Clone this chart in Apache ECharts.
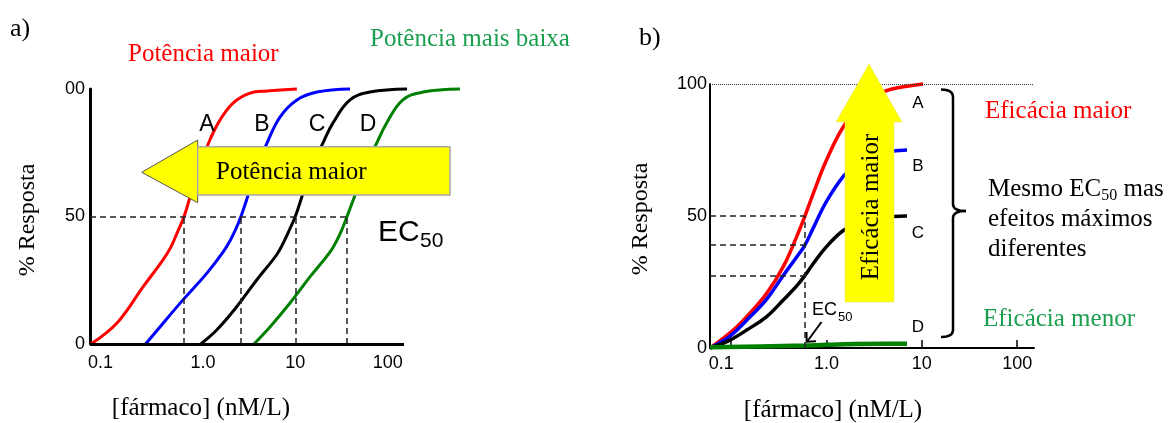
<!DOCTYPE html>
<html>
<head>
<meta charset="utf-8">
<script src="https://cdn.jsdelivr.net/npm/echarts@6/dist/echarts.min.js"></script>
<style>
  html, body { margin: 0; padding: 0; background: #fff; }
  #chart { width: 1173px; height: 423px; }
</style>
</head>
<body>
<div id="chart"></div>
<script>
// ---- Panel a: four agonists, same maximum, different potency ----
const doseRedA   = [0.0615, 0.1175, 0.225, 0.37, 0.45, 0.525, 0.625, 0.724, 0.929, 1.19, 1.53, 2.12, 3.24, 4.94, 10.4];
const respRedA   = [0, 8.2, 22.4, 33, 38, 43.5, 50, 57.5, 70, 80, 87.8, 94.5, 98.4, 99.2, 100];
const doseBlueA  = [0.24, 0.343, 0.609, 1.106, 1.65, 2.0, 2.3, 2.58, 3.0, 3.85, 4.94, 6.83, 10.4, 17.2, 39.1];
const respBlueA  = [0, 6.7, 17.3, 27.8, 36, 41, 45.5, 50, 57, 69.4, 78.8, 89, 95.7, 98.8, 100];
const doseBlackA = [0.946, 1.41, 2.32, 3.82, 6.29, 7.5, 8.7, 10, 12.1, 15.5, 19.9, 25.6, 39.1, 64.3, 162];
const respBlackA = [0, 5.5, 14.6, 25.1, 35, 40, 45, 50, 59, 70.5, 78.8, 86.7, 95.7, 98.8, 100];
const doseGreenA = [3.57, 5.32, 8.77, 14.4, 23.7, 28.5, 32.5, 36.3, 46.1, 59.3, 76, 97.5, 146, 241, 605];
const respGreenA = [0, 6.7, 16.1, 26.3, 36, 41, 45.5, 50, 60, 70.5, 78.8, 86.7, 95.7, 98.8, 100];
const ec50A      = [0.625, 2.58, 10, 36.3];

// ---- Panel b: same EC50, different maximal effect ----
const doseB      = [0.06, 0.0972, 0.1456, 0.236, 0.352, 0.487, 0.594, 0.727, 1.0, 1.5, 2.2, 3.2, 4.98, 6.98];
const doseRedB   = [0.06, 0.0972, 0.1456, 0.236, 0.352, 0.487, 0.594, 0.727, 1.0, 1.5, 2.2, 3.2, 4.74, 10.3];
const respRedB   = [0, 5.7, 11.9, 20.7, 30.8, 42.2, 50, 58.6, 71.2, 83.8, 91, 95.5, 98, 100];
const respBlueB  = [0, 4.5, 10.5, 18.5, 27.5, 34.5, 39, 45.5, 55.5, 65, 70.5, 73.5, 74.6, 75];
const respBlackB = [0, 3, 6.8, 11.9, 18.2, 23.5, 27.5, 32, 38.4, 44.5, 47.5, 49.2, 49.8, 50];
const doseGreenB = [0.06, 0.2, 0.6, 1.0, 2.0, 4.0, 6.98];
const respGreenB = [0.3, 0.6, 0.9, 1.2, 1.5, 1.6, 1.6];
const ec50B      = 0.594;
const halfMaxB   = [50, 39, 27.5];

// ---- Axis ranges and ticks ----
const xMin = 0.06;
const xAxisEnd = 150;      // where the drawn concentration axis stops
const xCurveEndA = 700;    // panel a curves run on past the axis end
const xTickValues  = [0.1, 1, 10, 100];
const xTickLabels  = ['0.1', '1.0', '10', '100'];
const yTickLabelsA = ['0', '50', '00'];
const yTickLabelsB = ['0', '50', '100'];

const SERIF = '"Liberation Serif", "Times New Roman", serif';
const SANS = '"Liberation Sans", Arial, sans-serif';
const pairs = (xs, ys) => xs.map((x, i) => [x, ys[i]]);

const dashStyle = { color: '#222', type: [6, 4], width: 1.5 };
function segLines(segs, style) {
  return {
    silent: true, animation: false, symbol: ['none', 'none'],
    label: { show: false }, lineStyle: style,
    emphasis: { disabled: true },
    data: segs
  };
}

function xAxisCfg(gridIndex, max, lineWidth, showLine, showTicks, margin) {
  return {
    type: 'log', logBase: 10, gridIndex: gridIndex,
    min: xMin, max: max,
    axisLine: { show: showLine, onZero: false, lineStyle: { color: '#000', width: lineWidth } },
    axisTick: {
      show: showTicks, inside: true, length: 8, customValues: xTickValues,
      lineStyle: { color: '#000', width: 1.5 }
    },
    minorTick: { show: false },
    splitLine: { show: false },
    axisLabel: {
      customValues: xTickValues, margin: margin,
      color: '#000', fontSize: 18, fontFamily: SANS,
      formatter: function (v) {
        const i = Math.round(Math.log10(v)) + 1;
        return i === 0 ? '{l|' + xTickLabels[0] + '}' : xTickLabels[i];
      },
      rich: { l: { padding: [0, 20, 0, 0], fontSize: 18, fontFamily: SANS, color: '#000' } }
    }
  };
}

function yAxisCfg(gridIndex, lineWidth, labels, margin) {
  return {
    type: 'value', gridIndex: gridIndex, min: 0, max: 100, interval: 50,
    axisLine: { show: true, onZero: false, lineStyle: { color: '#000', width: lineWidth } },
    axisTick: { show: false },
    splitLine: { show: false },
    axisLabel: {
      margin: margin, color: '#000', fontSize: 18, fontFamily: SANS,
      formatter: v => labels[Math.round(v / 50)]
    }
  };
}

function curve(xi, data, color, width, extra) {
  return Object.assign({
    type: 'line', xAxisIndex: xi, yAxisIndex: xi, data: data,
    showSymbol: false, smooth: 0.4, clip: false,
    lineStyle: { color: color, width: width }, itemStyle: { color: color },
    emphasis: { disabled: true }, animation: false, z: 2
  }, extra || {});
}

function txt(x, y, text, font, fill, align, vAlign, extra) {
  return Object.assign({
    type: 'text', x: x, y: y, z: 20,
    style: { text: text, font: font, fill: fill, align: align || 'left', verticalAlign: vAlign || 'middle' }
  }, extra || {});
}

function seg(x1, y1, x2, y2, w) {
  return { type: 'line', z: 20, shape: { x1: x1, y1: y1, x2: x2, y2: y2 }, style: { stroke: '#000', lineWidth: w } };
}
function qcurve(x1, y1, cx, cy, x2, y2, w) {
  return {
    type: 'bezierCurve', z: 20,
    shape: { x1: x1, y1: y1, cpx1: cx, cpy1: cy, x2: x2, y2: y2 },
    style: { stroke: '#000', lineWidth: w, fill: null }
  };
}

// panel a: 92.4 px per decade, so the grid reaches the end of the longest curve
const decadeA = 92.4;
const gridWidthA = decadeA * (Math.log10(xCurveEndA) - Math.log10(xMin));

const option = {
  backgroundColor: '#fff',
  animation: false,
  grid: [
    { left: 90, top: 89, width: gridWidthA, height: 255 },
    { left: 710, top: 84, width: 324, height: 264 }
  ],
  xAxis: [xAxisCfg(0, xCurveEndA, 3, false, false, 10), xAxisCfg(1, xAxisEnd, 2, true, true, 7)],
  yAxis: [yAxisCfg(0, 3, yTickLabelsA, 5), yAxisCfg(1, 2, yTickLabelsB, 3)],
  series: [
    // panel a
    curve(0, pairs(doseRedA, respRedA), '#ff0000', 3, {
      markLine: segLines([[{ coord: [ec50A[0], 0] }, { coord: [ec50A[0], 50] }]], dashStyle)
    }),
    curve(0, pairs(doseBlueA, respBlueA), '#0000ff', 3, {
      markLine: segLines([[{ coord: [ec50A[1], 0] }, { coord: [ec50A[1], 50] }]], dashStyle)
    }),
    curve(0, pairs(doseBlackA, respBlackA), '#000000', 3, {
      markLine: segLines([[{ coord: [ec50A[2], 0] }, { coord: [ec50A[2], 50] }]], dashStyle)
    }),
    curve(0, pairs(doseGreenA, respGreenA), '#008000', 3, {
      markLine: segLines([
        [{ coord: [ec50A[3], 0] }, { coord: [ec50A[3], 50] }],
        [{ coord: [xMin, 50] }, { coord: [ec50A[3], 50] }]
      ], dashStyle)
    }),
    // concentration axis line of panel a, stopping at 150
    {
      type: 'line', xAxisIndex: 0, yAxisIndex: 0, data: [], z: 3,
      markLine: segLines([[{ coord: [xMin, 0] }, { coord: [xAxisEnd, 0] }]],
        { color: '#000', type: 'solid', width: 3 })
    },
    // panel b
    curve(1, pairs(doseRedB, respRedB), '#ff0000', 3.5, {
      markLine: segLines([[{ coord: [xMin, 100] }, { coord: [xAxisEnd, 100] }]],
        { color: '#333', type: 'dotted', width: 1 })
    }),
    curve(1, pairs(doseB, respBlueB), '#0000ff', 3.5),
    curve(1, pairs(doseB, respBlackB), '#000000', 3.5, {
      markLine: segLines([
        [{ coord: [xMin, halfMaxB[0]] }, { coord: [ec50B, halfMaxB[0]] }],
        [{ coord: [xMin, halfMaxB[1]] }, { coord: [ec50B, halfMaxB[1]] }],
        [{ coord: [xMin, halfMaxB[2]] }, { coord: [ec50B, halfMaxB[2]] }],
        [{ coord: [ec50B, 0] }, { coord: [ec50B, halfMaxB[0]] }]
      ], dashStyle)
    }),
    curve(1, pairs(doseGreenB, respGreenB), '#008000', 4.5)
  ],
  graphic: [
    // ---- panel a annotations ----
    txt(10, 29, 'a)', '26px ' + SERIF, '#000'),
    txt(128, 54, 'Potência maior', '25px ' + SERIF, '#ff0000'),
    txt(370, 39, 'Potência mais baixa', '25px ' + SERIF, '#1a9f4f'),
    txt(28, 220, '% Resposta', '24px ' + SERIF, '#000', 'center', 'middle', { rotation: Math.PI / 2 }),
    txt(201, 408, '[fármaco] (nM/L)', '25px ' + SERIF, '#000', 'center'),
    txt(207, 124.5, 'A', '23px ' + SANS, '#000', 'center'),
    txt(262, 124.5, 'B', '23px ' + SANS, '#000', 'center'),
    txt(317, 124.5, 'C', '23px ' + SANS, '#000', 'center'),
    txt(368, 124.5, 'D', '23px ' + SANS, '#000', 'center'),
    txt(378, 233, 'EC', '30px ' + SANS, '#000'),
    txt(420, 241.5, '50', '21px ' + SANS, '#000'),
    {
      type: 'polygon', z: 15,
      shape: { points: [[141.7, 172.3], [197.7, 140], [197.7, 202.7]] },
      style: { fill: '#ffff00', stroke: '#555', lineWidth: 1 }
    },
    {
      type: 'rect', z: 16,
      shape: { x: 197.7, y: 146.7, width: 252.3, height: 48.3 },
      style: { fill: '#ffff00', stroke: '#a8a8a8', lineWidth: 1.5 }
    },
    txt(216, 172.4, 'Potência maior', '25px ' + SERIF, '#000'),

    // ---- panel b annotations ----
    txt(639, 38, 'b)', '26px ' + SERIF, '#000'),
    txt(641, 219, '% Resposta', '24px ' + SERIF, '#000', 'center', 'middle', { rotation: Math.PI / 2 }),
    txt(833, 410, '[fármaco] (nM/L)', '25px ' + SERIF, '#000', 'center'),
    {
      type: 'polygon', z: 15,
      shape: { points: [[869, 64], [902, 122], [894, 122], [894, 302], [845, 302], [845, 122], [836, 122]] },
      style: { fill: '#ffff00', stroke: '#e0e060', lineWidth: 0.5 }
    },
    txt(871, 207, 'Eficácia maior', '25px ' + SERIF, '#000', 'center', 'middle', { rotation: Math.PI / 2 }),
    txt(918, 103, 'A', '17px ' + SANS, '#000', 'center'),
    txt(918, 166, 'B', '17px ' + SANS, '#000', 'center'),
    txt(918, 233, 'C', '17px ' + SANS, '#000', 'center'),
    txt(918, 327, 'D', '17px ' + SANS, '#000', 'center'),
    txt(812, 310.5, 'EC', '18px ' + SANS, '#000'),
    txt(838, 317, '50', '13px ' + SANS, '#000'),
    seg(821.5, 322, 807.5, 341, 2),
    {
      type: 'polyline', z: 20,
      shape: { points: [[806.5, 332], [806.7, 341.7], [816, 341.3]] },
      style: { stroke: '#000', lineWidth: 2, fill: null }
    },
    // curly bracket grouping the four maxima
    qcurve(941, 89.5, 953, 89.5, 953, 97, 2.5),
    seg(953, 97, 953, 204, 2.5),
    qcurve(953, 204, 953, 211, 966, 211, 2.5),
    qcurve(966, 211, 953, 211, 953, 218, 2.5),
    seg(953, 218, 953, 330, 2.5),
    qcurve(953, 330, 953, 337, 941, 337, 2.5),
    txt(985, 111.5, 'Eficácia maior', '25px ' + SERIF, '#ff0000'),
    {
      type: 'text', x: 988, y: 174, z: 20,
      style: {
        text: '{n|Mesmo EC}{s|50}{n| mas}\n{n|efeitos máximos}\n{n|diferentes}',
        align: 'left', verticalAlign: 'top', fill: '#000',
        rich: {
          n: { font: '25px ' + SERIF, fill: '#000', lineHeight: 30 },
          s: { font: '16px ' + SERIF, fill: '#000', lineHeight: 20, verticalAlign: 'bottom' }
        }
      }
    },
    txt(983, 319.5, 'Eficácia menor', '25px ' + SERIF, '#1a9f4f')
  ]
};

const chart = echarts.init(document.getElementById('chart'), null, { renderer: 'canvas' });
chart.setOption(option);
</script>
</body>
</html>
